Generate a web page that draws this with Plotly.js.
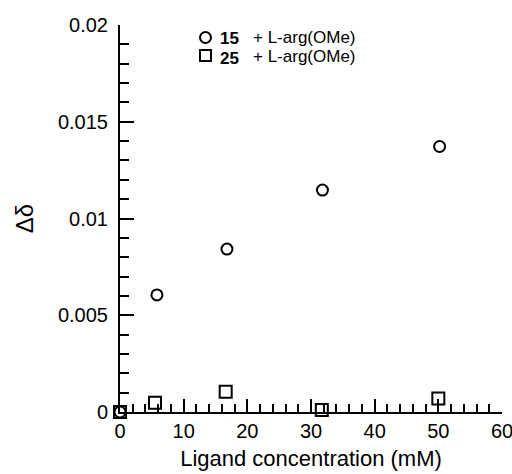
<!DOCTYPE html>
<html><head><meta charset="utf-8">
<script src="https://cdn.plot.ly/plotly-3.0.1.min.js"></script>
<style>html,body{margin:0;padding:0;background:#fff}#c{width:512px;height:474px}</style>
</head><body><div id="c"></div>
<script>
const x15 = [0, 5.8, 16.8, 31.8, 50.2];
const y15 = [0, 0.00605, 0.00842, 0.01147, 0.01372];
const x25 = [0, 5.5, 16.6, 31.7, 50.0];
const y25 = [0, 0.00048, 0.00105, 0.0001, 0.0007];
const label15 = '15';
const label25 = '25';
const ligand = '+ L-arg(OMe)';
const yTickVals = [0, 0.005, 0.01, 0.015, 0.02];
const yTickText = ['0', '0.005', '0.01', '0.015', '0.02'];

const font = 'Liberation Sans, Arial, sans-serif';
const traces = [
  {x: x15, y: y15, name: label15, mode: 'markers', type: 'scatter', cliponaxis: false,
   marker: {symbol: 'circle-open', size: 11, color: '#000', line: {width: 2, color: '#000'}}},
  {x: x25, y: y25, name: label25, mode: 'markers', type: 'scatter', cliponaxis: false,
   marker: {symbol: 'square-open', size: 12, color: '#000', line: {width: 2, color: '#000'}}}
];
// paper helpers for legend block (plot area: x 120..502, y 25..412 px)
const px = v => (v - 120) / 382;
const py = v => (412 - v) / 387;
const layout = {
  width: 512, height: 474,
  margin: {l: 120, r: 10, t: 25, b: 62},
  paper_bgcolor: '#fff', plot_bgcolor: '#fff',
  font: {family: font, color: '#000', size: 20},
  showlegend: false,
  xaxis: {range: [0, 60], dtick: 10, showgrid: false, zeroline: false,
          showline: true, linewidth: 2, linecolor: '#000',
          ticks: 'inside', ticklen: 13, tickwidth: 2, tickcolor: '#000',
          minor: {dtick: 2, ticks: 'inside', ticklen: 8, tickwidth: 2, tickcolor: '#000', showgrid: false},
          tickfont: {size: 20}, ticklabeloverflow: 'allow',
          title: {text: 'Ligand concentration (mM)', font: {size: 22}, standoff: 10}},
  yaxis: {range: [0, 0.02], tickvals: yTickVals, ticktext: yTickText, showgrid: false, zeroline: false,
          showline: true, linewidth: 2, linecolor: '#000',
          ticks: 'inside', ticklen: 14, tickwidth: 2, tickcolor: '#000',
          minor: {dtick: 0.001, ticks: 'inside', ticklen: 9, tickwidth: 2, tickcolor: '#000', showgrid: false},
          tickfont: {size: 20}, ticklabelstandoff: 6,
          title: {text: 'Δδ', font: {size: 24}, standoff: 18}},
  shapes: [
    {type: 'circle', xref: 'paper', yref: 'paper', x0: px(200), x1: px(211), y0: py(43), y1: py(32),
     line: {color: '#000', width: 2}},
    {type: 'rect', xref: 'paper', yref: 'paper', x0: px(200), x1: px(211), y0: py(61), y1: py(50),
     line: {color: '#000', width: 2}}
  ],
  annotations: [
    {xref: 'paper', yref: 'paper', x: px(219), y: py(38), xanchor: 'left', yanchor: 'middle',
     text: '<b>' + label15 + '</b>', showarrow: false, font: {size: 17}, borderpad: 0},
    {xref: 'paper', yref: 'paper', x: px(219), y: py(58), xanchor: 'left', yanchor: 'middle',
     text: '<b>' + label25 + '</b>', showarrow: false, font: {size: 17}, borderpad: 0},
    {xref: 'paper', yref: 'paper', x: px(252), y: py(37), xanchor: 'left', yanchor: 'middle',
     text: ligand, showarrow: false, font: {size: 17}, borderpad: 0},
    {xref: 'paper', yref: 'paper', x: px(252), y: py(56), xanchor: 'left', yanchor: 'middle',
     text: ligand, showarrow: false, font: {size: 17}, borderpad: 0}
  ]
};
Plotly.newPlot('c', traces, layout, {displayModeBar: false, staticPlot: true});
</script></body></html>
